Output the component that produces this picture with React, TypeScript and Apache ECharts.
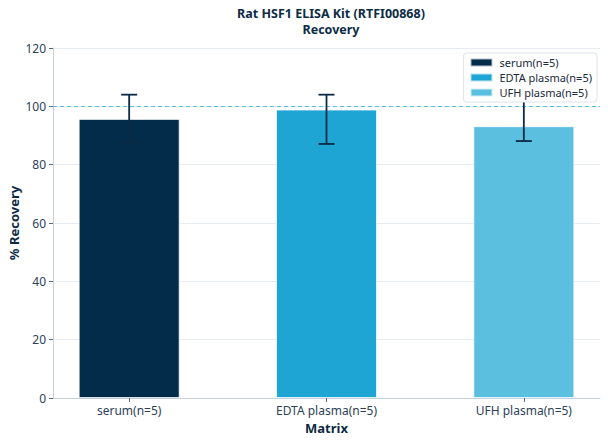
import { useEffect, useRef } from "react";
import * as echarts from "echarts";

const categories = ["serum(n=5)", "EDTA plasma(n=5)", "UFH plasma(n=5)"];
const recovery = [95.7, 98.9, 93.2];
const errLow = [87.4, 87.1, 88.1];
const errHigh = [104.0, 104.0, 106.5];
const colors = ["#032b4a", "#1fa5d3", "#5bbfe0"];
const yTicks = [0, 20, 40, 60, 80, 100, 120];

const font = "Noto Sans";
const ink = "#0d2b45";
const tickInk = "#2c4257";

export default function App() {
  const elRef = useRef<HTMLDivElement>(null);

  useEffect(() => {
    if (!elRef.current) return;
    const chart = echarts.init(elRef.current, undefined, { renderer: "svg" });

    const barSeries = categories.map((name, i) => ({
      name,
      type: "bar",
      data: [[i, recovery[i]]],
      barWidth: 101,
      barGap: "-100%",
      itemStyle: { color: colors[i], borderColor: "rgba(255,255,255,0.7)", borderWidth: 1 },
      z: 2,
      ...(i === 0
        ? {
            markLine: {
              silent: true,
              symbol: "none",
              label: { show: false },
              lineStyle: { color: "#5bc0de", type: [4, 3], width: 1 },
              data: [{ yAxis: 100 }],
            },
          }
        : {}),
    }));

    chart.setOption({
      animation: false,
      textStyle: { fontFamily: font },
      graphic: [
        {
          type: "text",
          x: 331,
          y: 7,
          style: {
            text: "Rat HSF1 ELISA Kit (RTFI00868)",
            fontFamily: font,
            fontSize: 12.5,
            fontWeight: "bold",
            fill: ink,
            align: "center",
          },
        },
        {
          type: "text",
          x: 331,
          y: 23,
          style: {
            text: "Recovery",
            fontFamily: font,
            fontSize: 12.5,
            fontWeight: "bold",
            fill: ink,
            align: "center",
          },
        },
      ],
      legend: {
        orient: "vertical",
        right: 11,
        top: 53,
        icon: "rect",
        itemWidth: 22,
        itemHeight: 8,
        itemGap: 4,
        padding: [4, 5, 4, 6],
        backgroundColor: "#fff",
        borderColor: "#dde3ea",
        borderWidth: 1,
        borderRadius: 3,
        textStyle: { fontFamily: font, fontSize: 11, color: "#1a2a3a", padding: [0, 0, 0, 2] },
        data: categories,
        z: 10,
      },
      grid: { left: 53, right: 8, top: 48, bottom: 46, outerBoundsMode: "none", containLabel: false },
      xAxis: {
        type: "value",
        min: -0.386,
        max: 2.386,
        name: "Matrix",
        nameLocation: "middle",
        nameGap: 23,
        nameTextStyle: { fontFamily: font, fontSize: 13, fontWeight: "bold", color: ink },
        axisLine: { show: true, onZero: false, lineStyle: { color: "#c5d0db" } },
        axisTick: { show: true, length: 4, customValues: [0, 1, 2], lineStyle: { color: "#5a6b7c" } },
        axisLabel: {
          customValues: [0, 1, 2],
          formatter: (v: number) => categories[Math.round(v)] ?? "",
          fontFamily: font,
          fontSize: 12,
          color: tickInk,
          margin: 6,
        },
        splitLine: { show: false },
      },
      yAxis: {
        type: "value",
        min: 0,
        max: 120,
        interval: 20,
        name: "% Recovery",
        nameLocation: "middle",
        nameGap: 39,
        nameRotate: 90,
        nameMoveOverlap: false,
        nameTextStyle: { fontFamily: font, fontSize: 13, fontWeight: "bold", color: ink, verticalAlign: "middle" },
        axisLine: { show: true, onZero: false, lineStyle: { color: "#c5d0db" } },
        axisTick: { show: true, length: 4, lineStyle: { color: "#5a6b7c" } },
        axisLabel: {
          fontFamily: font,
          fontSize: 12,
          color: tickInk,
          margin: 7,
          formatter: (v: number) => (yTicks.includes(v) ? String(v) : ""),
        },
        splitLine: { show: true, lineStyle: { color: "#e6ecf1", width: 1 } },
      },
      series: [
        ...barSeries,
        {
          name: "error",
          type: "custom",
          z: 5,
          data: categories.map((_, i) => [i, errLow[i], errHigh[i]]),
          renderItem: (_params: any, api: any) => {
            const x = api.value(0);
            const lo = api.coord([x, api.value(1)]);
            const hi = api.coord([x, api.value(2)]);
            const half = 8;
            const style = { stroke: "#0b2a45", lineWidth: 1.8 };
            return {
              type: "group",
              children: [
                { type: "line", shape: { x1: lo[0], y1: lo[1], x2: hi[0], y2: hi[1] }, style },
                { type: "line", shape: { x1: lo[0] - half, y1: lo[1], x2: lo[0] + half, y2: lo[1] }, style },
                { type: "line", shape: { x1: hi[0] - half, y1: hi[1], x2: hi[0] + half, y2: hi[1] }, style },
              ],
            };
          },
        },
      ],
    });

    return () => chart.dispose();
  }, []);

  return (
    <div
      ref={elRef}
      style={{ position: "absolute", left: 0, top: 0, width: 608, height: 444 }}
    />
  );
}
